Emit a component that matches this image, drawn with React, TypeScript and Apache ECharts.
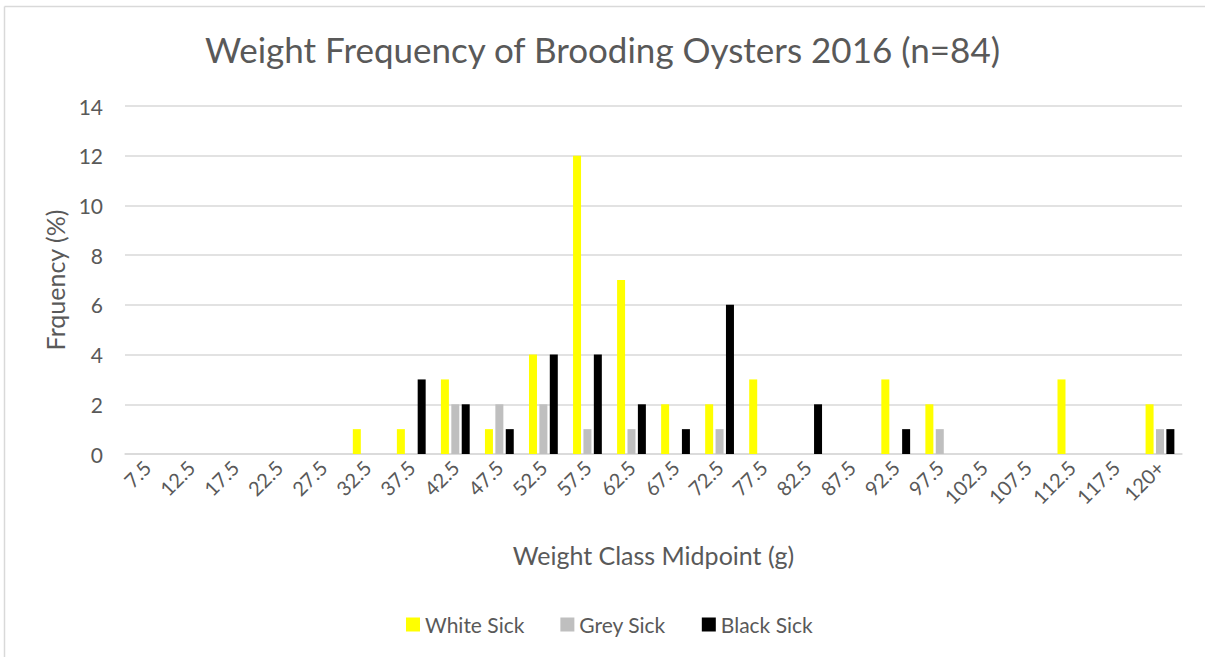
import React, { useEffect, useRef } from "react";
import * as echarts from "echarts";

const categories = ["7.5","12.5","17.5","22.5","27.5","32.5","37.5","42.5","47.5","52.5","57.5","62.5","67.5","72.5","77.5","82.5","87.5","92.5","97.5","102.5","107.5","112.5","117.5","120+"];
const whiteSick = [0,0,0,0,0,1,1,3,1,4,12,7,2,2,3,0,0,3,2,0,0,3,0,2];
const greySick =  [0,0,0,0,0,0,0,2,2,2,1,1,0,1,0,0,0,0,1,0,0,0,0,1];
const blackSick = [0,0,0,0,0,0,3,2,1,4,4,2,1,6,0,2,0,1,0,0,0,0,0,1];
const yTicks = [0, 14, 2];

const FONT = "Lato, 'Open Sans', sans-serif";
const TXT = "#595959";

export default function App() {
  const ref = useRef<HTMLDivElement>(null);
  useEffect(() => {
    const chart = echarts.init(ref.current!, null, { renderer: "svg" });
    chart.setOption({
      animation: false,
      backgroundColor: "#ffffff",
      textStyle: { fontFamily: FONT },
      title: {
        text: "Weight Frequency of Brooding Oysters 2016 (n=84)",
        left: "center",
        top: 26,
        textStyle: { fontFamily: FONT, fontSize: 35, fontWeight: "normal", color: TXT },
      },
      graphic: [
        { type: "line", shape: { x1: 4.5, y1: 6.5, x2: 1205, y2: 6.5 }, style: { stroke: "#d9d9d9", lineWidth: 1.5 } },
        { type: "line", shape: { x1: 4.5, y1: 6.5, x2: 4.5, y2: 657 }, style: { stroke: "#d9d9d9", lineWidth: 1.5 } },
      ],
      legend: {
        bottom: 17,
        left: 401,
        itemWidth: 14,
        itemHeight: 14,
        itemGap: 36,
        icon: "rect",
        textStyle: { fontFamily: FONT, fontSize: 21, color: TXT },
        data: ["White Sick", "Grey Sick", "Black Sick"],
      },
      grid: { left: 125, right: 23, top: 106, bottom: 203, containLabel: false },
      xAxis: {
        type: "category",
        data: categories,
        name: "Weight Class Midpoint (g)",
        nameLocation: "middle",
        nameGap: 88,
        nameTextStyle: { fontFamily: FONT, fontSize: 25, color: TXT },
        axisLine: { lineStyle: { color: "#d9d9d9", width: 1.5 } },
        axisTick: { show: false },
        axisLabel: { rotate: 45, fontFamily: FONT, fontSize: 20, color: TXT, margin: 10, interval: 0 },
      },
      yAxis: {
        type: "value",
        min: yTicks[0],
        max: yTicks[1],
        interval: yTicks[2],
        name: "Frquency (%)",
        nameLocation: "middle",
        nameGap: 58,
        nameTextStyle: { fontFamily: FONT, fontSize: 25, color: TXT },
        axisLine: { show: false },
        axisTick: { show: false },
        axisLabel: { fontFamily: FONT, fontSize: 21, color: TXT, margin: 22 },
        splitLine: { lineStyle: { color: "#d9d9d9", width: 1.5 } },
      },
      series: [
        { name: "White Sick", type: "bar", data: whiteSick, barWidth: 8, barGap: "30%", itemStyle: { color: "#ffff00" } },
        { name: "Grey Sick", type: "bar", data: greySick, barWidth: 8, barGap: "30%", itemStyle: { color: "#bfbfbf" } },
        { name: "Black Sick", type: "bar", data: blackSick, barWidth: 8, barGap: "30%", itemStyle: { color: "#000000" } },
      ],
    });
    return () => chart.dispose();
  }, []);
  return <div ref={ref} style={{ position: "absolute", left: 0, top: 0, width: 1205, height: 657 }} />;
}
